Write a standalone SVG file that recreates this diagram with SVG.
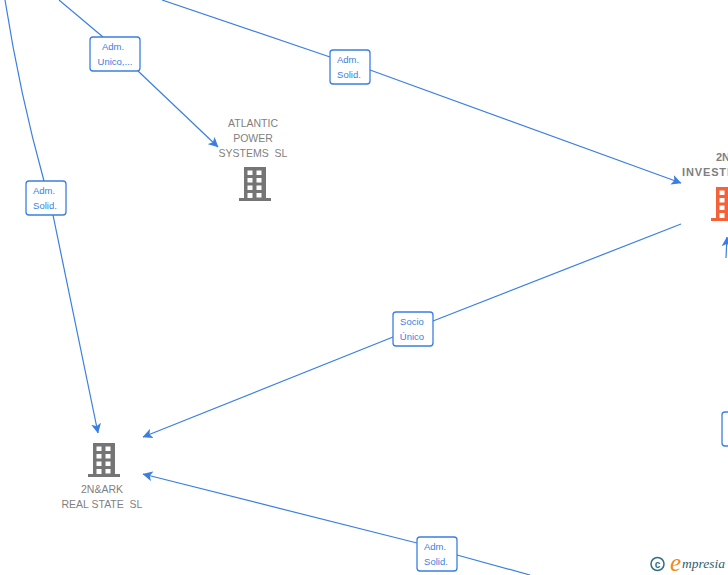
<svg xmlns="http://www.w3.org/2000/svg" width="728" height="575" viewBox="0 0 728 575">
<style>
text{font-family:"Liberation Sans",Arial,sans-serif;white-space:pre}
.c{fill:none;stroke:#3a7fe0;stroke-width:1.2}
.b{fill:#fff;stroke:#3a7fe0;stroke-width:1.3}
.bt{font-size:9.5px;fill:#3a7fe0;text-anchor:middle}
.n{font-size:10.500px;fill:#7f7f7f;text-anchor:middle}
.w{fill:#fff}
</style>
<defs>
<marker id="a" viewBox="0 0 10 10" refX="9.500" refY="5" markerWidth="10" markerHeight="10" orient="auto" markerUnits="userSpaceOnUse"><path d="M0,0L10,5L0,10L2.500,5Z" fill="#3a7fe0"/></marker>
<g id="bld">
<path d="M5,0H27V31H32V34H0V31H5Z"/>
<path class="w" d="M8.500,3.500h5v4.500h-5zM17.500,3.500h5v4.500h-5zM8.500,11h5v4.500h-5zM17.500,11h5v4.500h-5zM8.500,18.500h5v4.500h-5zM17.500,18.500h5v4.500h-5zM8.500,26h5v5h-5zM17.500,26h5v4.500h-5z"/>
</g>
</defs>
<g id="connectors">
<path class="c" d="M5,0Q20,95 44,181"/>
<path class="c" marker-end="url(#a)" d="M53,215L98,433"/>
<path class="c" d="M59,0L103,37"/>
<path class="c" marker-end="url(#a)" d="M138,71L218,147"/>
<path class="c" d="M162,0L330,57"/>
<path class="c" marker-end="url(#a)" d="M370,70L681,183"/>
<path class="c" d="M681,224L433,321"/>
<path class="c" marker-end="url(#a)" d="M393,337L143,437"/>
<path class="c" d="M530,575L457,555"/>
<path class="c" marker-end="url(#a)" d="M417,543L143,474"/>
<path class="c" marker-end="url(#a)" d="M726,258L727,237"/>
</g>
<g id="node-atlantic">
<use href="#bld" x="239" y="167" fill="#757575"/>
<text class="n" x="253" y="127">ATLANTIC</text>
<text class="n" x="253" y="142">POWER</text>
<text class="n" x="253" y="157">SYSTEMS  SL</text>
</g>
<g id="node-2nark">
<use href="#bld" x="88" y="443" fill="#757575"/>
<text class="n" x="102" y="493">2N&amp;ARK</text>
<text class="n" x="102" y="508">REAL STATE  SL</text>
</g>
<g id="node-2n">
<use href="#bld" x="711" y="187" fill="#f4623a"/>
<text x="716" y="161" font-size="11" font-weight="bold" fill="#7f7f7f">2N</text>
<text x="682" y="176" font-size="11" font-weight="bold" fill="#7f7f7f" textLength="48">INVESTI</text>
</g>
<g id="label-1"><rect class="b" x="90" y="37" width="50" height="34" rx="3"/><text class="bt" x="113" y="50">Adm.</text><text class="bt" x="115" y="65">Unico,...</text></g>
<g id="label-2"><rect class="b" x="330" y="50" width="40" height="34" rx="3"/><text class="bt" x="348" y="63">Adm.</text><text class="bt" x="349" y="78">Solid.</text></g>
<g id="label-3"><rect class="b" x="26" y="181" width="40" height="34" rx="3"/><text class="bt" x="44" y="194">Adm.</text><text class="bt" x="45" y="209">Solid.</text></g>
<g id="label-4"><rect class="b" x="393" y="312" width="40" height="34" rx="3"/><text class="bt" x="412" y="325">Socio</text><text class="bt" x="412" y="340">Único</text></g>
<g id="label-5"><rect class="b" x="417" y="537" width="40" height="34" rx="3"/><text class="bt" x="435" y="550">Adm.</text><text class="bt" x="436" y="565">Solid.</text></g>
<g id="label-6"><rect class="b" x="722" y="412" width="40" height="34" rx="3"/></g>
<g id="logo">
<circle cx="657.500" cy="564" r="6.500" fill="none" stroke="#2f6f80" stroke-width="1.500"/>
<text x="657.500" y="567.500" font-size="10" font-weight="bold" fill="#2f6f80" text-anchor="middle">c</text>
<text x="670" y="571" font-size="25" font-style="italic" fill="#f08a1d" style="font-family:'Liberation Serif',serif">e</text>
<text x="682" y="568" font-size="13.500" font-style="italic" fill="#2f6070" textLength="43" style="font-family:'Liberation Serif',serif">mpresia</text>
</g>
</svg>
